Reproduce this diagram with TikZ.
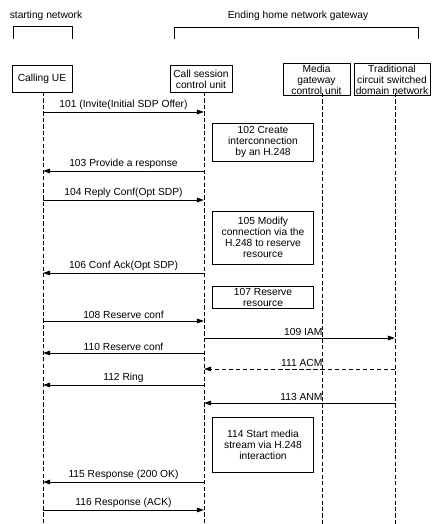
\documentclass[tikz,border=0pt]{standalone}
\usepackage{fontspec}
\setmainfont{Liberation Sans}
\usetikzlibrary{positioning,arrows.meta,calc}

\begin{document}
\begin{tikzpicture}[x=0.025cm, y=-0.025cm,
  party/.style={rectangle, draw, line width=0.7pt, align=center, inner sep=1pt,
    minimum height=0.66cm, font=\fontsize{7.3}{7.8}\selectfont},
  action/.style={rectangle, draw, line width=0.7pt, align=center, inner sep=1pt,
    minimum width=2.5cm, font=\fontsize{7.3}{7.8}\selectfont},
  life/.style={dash pattern=on 3pt off 1.6pt, line width=0.5pt},
  msg/.style={-{Triangle[length=5pt,width=3.2pt]}, line width=0.6pt},
  lbl/.style={font=\fontsize{7.3}{7.8}\selectfont, inner sep=1.5pt},
  brk/.style={line width=0.7pt}
]
\useasboundingbox (0,0) rectangle (434,524);

% group headings
\node[lbl] (start) at (46,16) {starting network};
\node[lbl] (ending) at (298,16) {Ending home network gateway};
\draw[brk] (13,39) -- (13,26) -- (72,26) -- (72,39);
\draw[brk] (174,39) -- (174,27) -- (418,27) -- (418,39);

% parties
\node[party, minimum width=1.5cm] (ue) at (42,79) {Calling UE};
\node[party, minimum width=1.55cm] (csc) at (201,79) {Call session\\control unit};
\node[party, minimum width=1.675cm] (mgc) at (316.5,79.5) {Media\\gateway\\control unit};
\node[party, minimum width=1.9cm] (tcs) at (392,79.5) {Traditional\\circuit switched\\domain network};

% lifelines
\coordinate (ueT) at (43,92);   \coordinate (ueB) at (43,524);
\coordinate (cscT) at (204,92); \coordinate (cscB) at (204,524);
\coordinate (mgcT) at (322,93); \coordinate (mgcB) at (322,524);
\coordinate (tcsT) at (395,93); \coordinate (tcsB) at (395,524);
\draw[life] (ueT) -- (ueB);
\draw[life] (cscT) -- (cscB);
\draw[life] (mgcT) -- (mgcB);
\draw[life] (tcsT) -- (tcsB);

% message rows
\coordinate (r101) at (0,112);
\coordinate (r103) at (0,171);
\coordinate (r104) at (0,200);
\coordinate (r106) at (0,273);
\coordinate (r108) at (0,321);
\coordinate (r109) at (0,338);
\coordinate (r110) at (0,353);
\coordinate (r111) at (0,369);
\coordinate (r112) at (0,385);
\coordinate (r113) at (0,403);
\coordinate (r115) at (0,482);
\coordinate (r116) at (0,510);

% actions at the call session control unit
\node[action, minimum height=0.95cm] (a102) at (263,142) {102 Create\\interconnection\\by an H.248};
\node[action, minimum height=1.325cm] (a105) at (263,237.5) {105 Modify\\connection via the\\H.248 to reserve\\resource};
\node[action, minimum height=0.55cm] (a107) at (263,297) {107 Reserve\\resource};
\node[action, minimum height=1.375cm] (a114) at (263,444.5) {114 Start media\\stream via H.248\\interaction};

% messages
\draw[msg] (ueT |- r101) -- (cscT |- r101) node[lbl, midway, above] {101 (Invite(Initial SDP Offer)};
\draw[msg] (cscT |- r103) -- (ueT |- r103) node[lbl, midway, above] {103 Provide a response};
\draw[msg] (ueT |- r104) -- (cscT |- r104) node[lbl, midway, above] {104 Reply Conf(Opt SDP)};
\draw[msg] (cscT |- r106) -- (ueT |- r106) node[lbl, midway, above] {106 Conf Ack(Opt SDP)};
\draw[msg] (ueT |- r108) -- (cscT |- r108) node[lbl, midway, above] {108 Reserve conf};
\draw[msg] (cscT |- r109) -- (tcsT |- r109);
\node[lbl, above left=0pt and -2pt of mgcT |- r109] (l109) {109 IAM};
\draw[msg] (cscT |- r110) -- (ueT |- r110) node[lbl, midway, above] {110 Reserve conf};
\draw[msg, dash pattern=on 3pt off 2pt] (tcsT |- r111) -- (cscT |- r111);
\node[lbl, above left=0pt and -2pt of mgcT |- r111] (l111) {111 ACM};
\draw[msg] (cscT |- r112) -- (ueT |- r112) node[lbl, midway, above] {112 Ring};
\draw[msg] (tcsT |- r113) -- (cscT |- r113);
\node[lbl, above left=0pt and -2pt of mgcT |- r113] (l113) {113 ANM};
\draw[msg] (cscT |- r115) -- (ueT |- r115) node[lbl, midway, above] {115 Response (200 OK)};
\draw[msg] (ueT |- r116) -- (cscT |- r116) node[lbl, midway, above] {116 Response (ACK)};
\end{tikzpicture}
\end{document}
